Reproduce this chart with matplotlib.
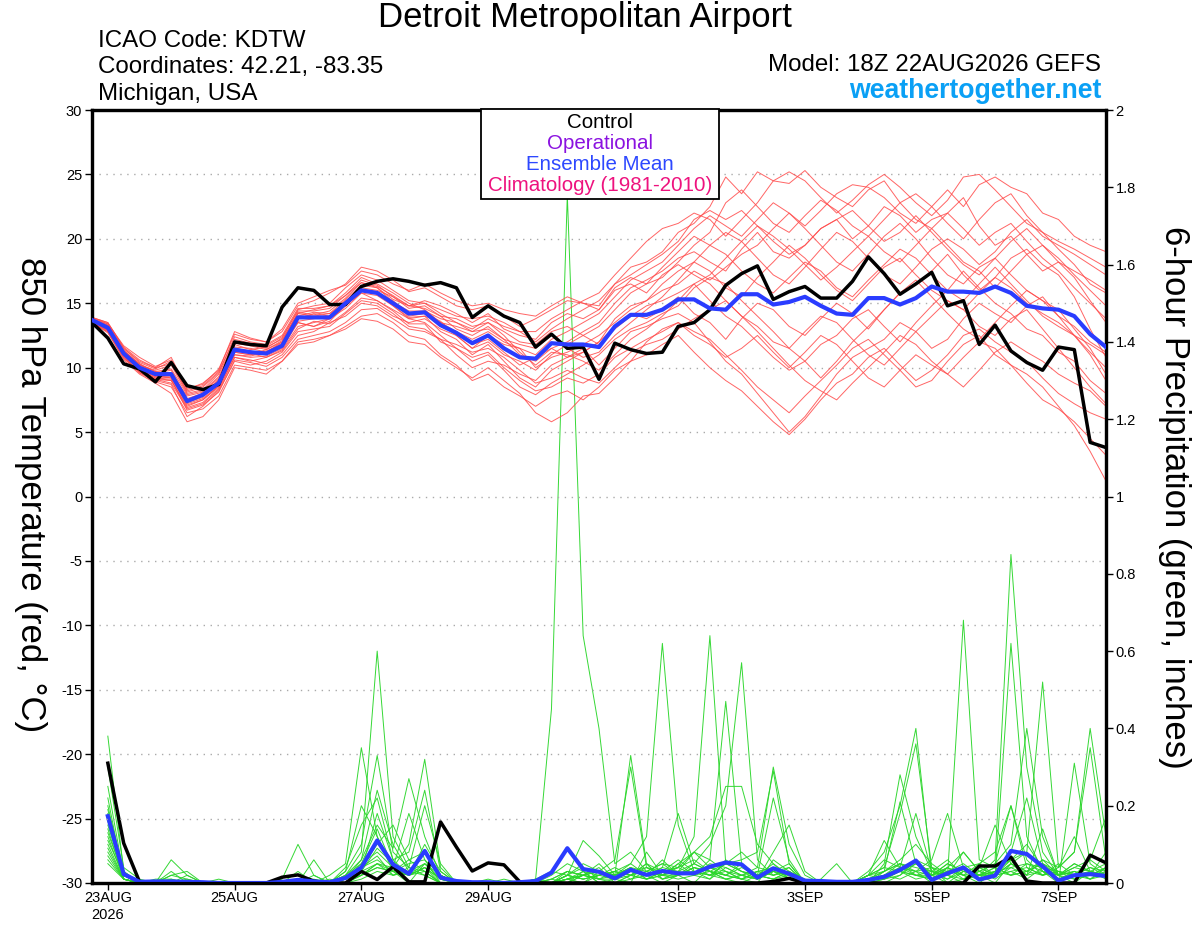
import numpy as np
import pandas as pd
import matplotlib
matplotlib.use("Agg")
import matplotlib.pyplot as plt
from matplotlib.patches import Rectangle

plt.rcParams['font.family'] = ['Liberation Sans', 'DejaVu Sans']

# ---------------- data ----------------
t_times = pd.date_range("2026-08-22 18:00", periods=65, freq="6h")
p_times = pd.date_range("2026-08-23 00:00", periods=64, freq="6h")

tick_dates = ["2026-08-23", "2026-08-25", "2026-08-27", "2026-08-29",
              "2026-09-01", "2026-09-03", "2026-09-05", "2026-09-07"]
tick_labels = ["23AUG\n2026", "25AUG", "27AUG", "29AUG", "1SEP", "3SEP", "5SEP", "7SEP"]

temp_ticks = [-30, -25, -20, -15, -10, -5, 0, 5, 10, 15, 20, 25, 30]
precip_ticks = [0, 0.2, 0.4, 0.6, 0.8, 1.0, 1.2, 1.4, 1.6, 1.8, 2.0]
precip_tick_labels = ["0", "0.2", "0.4", "0.6", "0.8", "1", "1.2", "1.4", "1.6", "1.8", "2"]

# control 850 hPa temperature
t_control = [13.5,
    12.3, 10.3, 9.9, 8.9,  10.4, 8.6, 8.3, 8.7,  12.0, 11.8, 11.7, 14.7,  16.2, 16.0, 14.9, 14.9,
    16.3, 16.7, 16.9, 16.7,  16.4, 16.6, 16.2, 13.9,  14.8, 14.0, 13.5, 11.6,  12.6, 11.5, 11.6, 9.1,
    11.9, 11.4, 11.1, 11.2,  13.2, 13.5, 14.5, 16.4,  17.3, 17.9, 15.3, 15.9,  16.3, 15.4, 15.4, 16.7,
    18.6, 17.3, 15.7, 16.5,  17.4, 14.8, 15.2, 11.8,  13.3, 11.3, 10.4, 9.8,  11.6, 11.4, 4.2, 3.8]

# ensemble mean temperature
t_mean = [13.7,
    13.1, 11.1, 10.0, 9.5,  9.5, 7.4, 7.9, 8.8,  11.4, 11.2, 11.1, 11.7,  13.9, 13.9, 13.9, 15.0,
    16.0, 15.8, 15.0, 14.2,  14.3, 13.3, 12.7, 11.9,  12.5, 11.5, 10.8, 10.7,  11.9, 11.8, 11.8, 11.6,
    13.2, 14.1, 14.1, 14.5,  15.3, 15.3, 14.6, 14.5,  15.7, 15.7, 14.9, 15.1,  15.5, 14.8, 14.2, 14.1,
    15.4, 15.4, 14.9, 15.4,  16.3, 15.9, 15.9, 15.8,  16.3, 15.8, 14.8, 14.6,  14.5, 14.0, 12.6, 11.6]

# ensemble members temperature
t_m01 = [13.8, 13.3, 11.4, 10.2, 9.8, 10.2, 8.0, 8.3, 9.5, 12.0, 11.8, 11.5, 12.3, 14.5, 14.8, 15.0, 16.2, 17.2, 16.8, 16.0, 15.2, 15.0, 14.2, 13.5, 12.8, 13.0, 12.2, 11.0, 10.5, 11.5, 12.0, 12.8, 13.5, 15.0, 16.2, 16.8, 17.5, 18.5, 19.0, 18.2, 17.5, 19.2, 20.5, 19.0, 18.5, 19.5, 20.8, 21.5, 20.0, 21.0, 22.5, 21.8, 20.5, 21.5, 22.0, 20.8, 19.5, 20.5, 21.2, 19.8, 18.5, 17.5, 16.2, 15.0, 13.8]
t_m02 = [13.5, 12.9, 10.8, 9.6, 8.9, 8.5, 6.5, 6.8, 7.8, 10.2, 10.0, 9.8, 10.5, 12.0, 12.2, 12.5, 13.2, 14.0, 14.2, 13.5, 12.5, 12.2, 11.0, 10.2, 9.0, 9.5, 8.5, 7.8, 7.0, 7.8, 8.2, 7.5, 8.5, 9.8, 10.5, 11.0, 11.8, 12.5, 11.2, 10.0, 9.0, 8.2, 7.0, 5.8, 4.8, 6.0, 7.5, 8.8, 9.5, 10.8, 11.5, 10.2, 9.0, 9.8, 11.0, 12.5, 13.0, 12.0, 11.2, 10.5, 9.2, 8.0, 7.2, 6.5, 6.0]
t_m03 = [13.9, 13.5, 11.6, 10.6, 10.0, 10.8, 8.3, 8.8, 9.8, 12.8, 12.3, 12.0, 12.8, 14.8, 15.2, 15.8, 16.5, 17.8, 17.5, 16.8, 15.9, 16.2, 15.5, 14.8, 14.5, 14.8, 14.0, 13.2, 13.8, 14.5, 15.2, 15.0, 14.8, 16.5, 17.8, 18.2, 19.0, 20.5, 21.2, 22.5, 24.8, 23.5, 25.2, 24.5, 24.3, 25.3, 24.0, 23.2, 22.5, 23.8, 24.5, 22.8, 21.5, 20.8, 22.0, 23.2, 21.0, 19.5, 20.2, 18.8, 17.5, 18.2, 17.0, 15.2, 13.5]
t_m04 = [13.6, 13.0, 11.0, 9.8, 9.2, 9.0, 7.0, 7.5, 8.5, 11.0, 10.8, 10.9, 11.5, 13.5, 13.2, 13.8, 14.6, 15.8, 15.2, 14.5, 13.8, 13.5, 12.5, 11.5, 10.5, 11.0, 9.8, 8.5, 7.9, 8.8, 9.5, 10.2, 11.0, 12.2, 13.0, 13.5, 14.2, 14.8, 16.2, 17.0, 16.5, 15.2, 14.0, 12.8, 11.5, 10.5, 9.2, 10.5, 12.0, 13.2, 14.5, 15.8, 16.5, 17.5, 18.8, 17.2, 16.0, 17.0, 18.5, 19.2, 18.0, 17.2, 15.5, 13.0, 10.8]
t_m05 = [13.7, 13.2, 11.2, 10.1, 9.6, 9.8, 7.6, 8.0, 9.0, 11.6, 11.5, 11.2, 12.0, 14.2, 14.0, 14.2, 15.3, 16.4, 16.2, 15.3, 14.8, 15.2, 14.8, 14.2, 13.5, 14.2, 13.0, 12.5, 12.2, 13.5, 14.2, 13.8, 14.5, 16.0, 16.5, 15.8, 17.2, 18.0, 17.2, 16.5, 15.2, 14.0, 13.2, 12.0, 11.5, 12.8, 14.0, 13.5, 12.2, 11.0, 10.2, 11.5, 12.8, 14.0, 15.2, 14.5, 13.2, 12.5, 13.8, 14.5, 13.0, 11.5, 10.0, 8.5, 7.2]
t_m06 = [13.8, 13.4, 11.5, 10.4, 9.9, 10.5, 8.1, 8.5, 9.6, 12.4, 12.0, 11.8, 12.5, 14.6, 14.6, 14.8, 15.8, 17.0, 16.5, 15.8, 15.0, 14.5, 13.5, 12.8, 12.2, 12.8, 12.0, 11.5, 11.0, 12.2, 12.8, 13.5, 14.2, 15.5, 16.8, 17.5, 18.2, 19.5, 20.8, 21.8, 21.0, 20.2, 21.5, 22.8, 22.0, 21.0, 22.2, 23.5, 24.2, 24.0, 23.2, 22.0, 21.2, 22.5, 23.8, 22.5, 24.2, 24.8, 24.0, 23.5, 22.0, 21.5, 20.2, 19.5, 19.0]
t_m07 = [13.4, 12.8, 10.6, 9.5, 8.8, 8.0, 5.8, 6.2, 7.5, 10.0, 9.8, 9.5, 10.5, 11.8, 12.0, 12.5, 13.0, 13.8, 13.6, 13.0, 12.0, 11.8, 10.8, 10.0, 9.2, 10.0, 9.0, 8.0, 6.5, 5.8, 6.5, 7.8, 8.0, 9.2, 10.5, 12.0, 13.0, 13.5, 12.8, 12.2, 11.0, 9.8, 8.5, 7.5, 6.5, 7.8, 9.0, 10.2, 11.5, 12.2, 11.0, 9.8, 8.5, 9.0, 10.5, 11.8, 12.5, 11.0, 10.2, 9.5, 8.5, 7.0, 5.5, 3.5, 1.2]
t_m08 = [13.6, 13.1, 11.2, 10.0, 9.4, 9.2, 7.2, 7.6, 8.6, 11.2, 11.0, 11.3, 11.8, 13.8, 14.2, 14.0, 15.2, 16.2, 16.0, 15.5, 14.6, 14.8, 14.0, 13.0, 12.5, 13.2, 12.2, 11.8, 11.5, 12.5, 11.5, 10.8, 11.2, 12.5, 13.5, 14.5, 15.5, 16.8, 18.2, 19.5, 20.5, 19.8, 18.5, 17.2, 16.5, 17.8, 19.2, 20.5, 19.8, 18.5, 17.2, 16.5, 17.8, 19.2, 20.0, 19.2, 18.0, 19.0, 20.5, 21.5, 20.2, 19.5, 18.8, 18.0, 17.2]
t_m09 = [13.5, 12.7, 10.7, 9.7, 9.0, 8.7, 6.2, 7.0, 8.2, 10.5, 10.2, 10.5, 11.2, 12.8, 13.0, 13.2, 14.2, 15.2, 15.0, 14.2, 13.2, 13.0, 12.2, 11.0, 10.0, 10.5, 10.2, 9.5, 9.0, 10.2, 10.8, 11.5, 10.2, 11.5, 12.8, 13.2, 13.8, 14.2, 13.5, 12.0, 10.5, 9.5, 8.0, 6.5, 5.0, 6.2, 7.8, 9.5, 10.8, 11.5, 12.2, 13.5, 12.8, 11.5, 12.2, 13.8, 15.0, 14.2, 13.5, 14.8, 15.5, 14.0, 12.5, 11.2, 10.0]
t_m10 = [13.9, 13.4, 11.7, 10.8, 10.1, 10.6, 8.4, 8.7, 9.9, 12.6, 12.2, 12.0, 13.0, 15.0, 15.5, 16.0, 16.4, 17.5, 17.2, 16.5, 16.0, 16.5, 15.8, 15.2, 14.8, 15.0, 14.5, 14.2, 14.0, 14.8, 15.5, 15.0, 14.5, 16.2, 17.0, 16.5, 17.8, 19.0, 20.2, 19.5, 18.8, 17.5, 16.5, 15.8, 17.0, 18.2, 17.5, 16.2, 15.5, 16.8, 18.0, 19.2, 18.5, 17.2, 16.0, 15.2, 16.5, 17.8, 16.5, 15.2, 14.0, 13.2, 12.5, 11.8, 11.0]
t_m11 = [13.7, 13.0, 11.0, 9.9, 9.3, 9.3, 7.3, 7.7, 8.9, 11.3, 11.1, 10.8, 11.4, 13.2, 13.5, 13.8, 14.8, 15.8, 15.6, 14.8, 13.8, 14.0, 12.8, 12.2, 11.0, 11.8, 10.5, 9.2, 8.5, 9.8, 10.5, 11.2, 12.0, 13.8, 14.8, 15.2, 16.0, 16.5, 17.5, 16.8, 17.8, 18.8, 19.5, 20.8, 22.0, 20.8, 19.5, 18.2, 17.5, 18.8, 20.2, 21.2, 20.0, 18.5, 17.2, 16.5, 17.8, 18.5, 17.2, 16.0, 15.2, 14.5, 13.0, 11.5, 9.5]
t_m12 = [13.6, 13.2, 11.3, 10.3, 9.7, 9.5, 7.8, 8.1, 9.2, 11.8, 11.4, 11.6, 12.2, 14.2, 14.5, 14.8, 15.6, 16.8, 16.4, 15.5, 14.8, 14.6, 14.0, 13.8, 13.2, 13.5, 12.8, 12.0, 11.8, 12.8, 13.2, 12.5, 11.8, 13.0, 14.0, 14.8, 15.2, 15.8, 16.5, 15.2, 14.0, 13.2, 12.0, 10.8, 9.8, 10.5, 11.8, 12.5, 13.8, 14.5, 13.2, 12.0, 13.5, 14.8, 16.0, 17.5, 16.2, 15.0, 14.2, 13.0, 12.5, 11.2, 10.5, 9.0, 8.0]
t_m13 = [13.5, 12.8, 10.9, 9.6, 9.1, 8.8, 6.8, 7.2, 8.3, 10.8, 10.6, 10.3, 11.0, 12.5, 12.8, 13.5, 14.0, 15.0, 14.8, 14.0, 13.5, 13.8, 13.0, 12.5, 11.5, 12.0, 11.0, 10.5, 9.8, 11.0, 11.8, 12.5, 13.2, 14.5, 15.8, 16.5, 17.0, 18.2, 19.5, 20.5, 22.8, 23.8, 22.5, 21.2, 20.5, 21.8, 23.0, 22.2, 21.0, 20.2, 21.5, 22.8, 23.5, 22.5, 21.2, 20.0, 21.5, 22.8, 23.5, 21.8, 20.5, 19.2, 18.0, 16.5, 15.8]
t_m14 = [13.8, 13.3, 11.3, 10.3, 9.5, 9.6, 7.5, 7.9, 9.1, 11.5, 11.3, 11.0, 11.8, 13.5, 13.2, 13.6, 14.8, 16.0, 15.8, 15.2, 14.2, 14.2, 13.2, 12.8, 11.8, 12.2, 11.2, 10.2, 10.8, 11.5, 10.8, 11.2, 12.0, 13.2, 14.2, 13.8, 14.5, 15.5, 14.2, 13.5, 12.2, 13.8, 15.0, 14.5, 13.2, 12.5, 13.8, 15.0, 14.2, 13.0, 14.5, 15.8, 16.8, 15.5, 14.2, 13.0, 12.2, 13.5, 14.8, 16.0, 15.2, 14.0, 13.2, 12.0, 11.2]
t_m15 = [13.7, 13.1, 11.1, 10.0, 9.4, 9.4, 7.4, 7.8, 8.7, 11.2, 11.0, 11.4, 12.0, 14.0, 14.3, 14.2, 15.0, 16.0, 15.8, 14.8, 13.9, 14.0, 13.5, 13.2, 12.8, 13.5, 12.5, 11.2, 10.2, 11.2, 11.0, 10.5, 9.8, 11.0, 12.2, 13.0, 14.0, 15.2, 16.5, 17.2, 18.5, 19.8, 21.0, 20.2, 19.2, 18.0, 16.8, 17.8, 19.0, 20.2, 19.0, 18.2, 19.5, 20.8, 19.5, 18.2, 17.5, 16.2, 17.5, 18.8, 19.5, 18.5, 17.2, 16.0, 14.8]
t_m16 = [13.6, 12.9, 10.8, 9.7, 9.1, 9.0, 6.9, 7.3, 8.4, 10.8, 10.5, 10.8, 11.3, 13.0, 13.6, 13.4, 14.3, 15.4, 15.2, 14.4, 13.4, 13.4, 12.0, 11.5, 10.8, 11.2, 10.0, 9.0, 8.2, 8.5, 9.2, 8.8, 9.5, 10.8, 11.5, 12.2, 12.8, 13.5, 12.5, 11.8, 10.8, 11.5, 12.5, 11.2, 10.0, 11.2, 12.5, 11.8, 10.5, 9.2, 8.5, 9.8, 11.0, 10.2, 9.5, 10.8, 12.0, 11.5, 10.2, 8.8, 7.5, 6.8, 5.8, 4.5, 3.2]
t_m17 = [13.9, 13.5, 11.5, 10.5, 10.0, 10.3, 8.2, 8.6, 9.7, 12.2, 11.9, 11.7, 12.4, 14.4, 14.4, 14.6, 15.6, 16.6, 16.3, 15.6, 14.8, 15.0, 14.5, 14.0, 13.8, 14.0, 13.5, 12.8, 12.8, 13.8, 14.5, 15.2, 15.8, 17.2, 18.5, 19.8, 20.8, 21.2, 22.0, 21.5, 20.2, 21.5, 22.8, 24.5, 25.2, 24.5, 23.2, 22.0, 23.0, 24.2, 25.0, 24.0, 22.8, 21.8, 23.0, 24.8, 25.0, 23.8, 22.5, 21.2, 20.5, 19.8, 19.2, 18.5, 17.8]
t_m18 = [13.5, 12.9, 10.9, 9.8, 9.2, 9.1, 6.7, 7.1, 8.1, 10.6, 10.4, 10.1, 10.8, 12.2, 12.5, 12.8, 13.5, 14.5, 14.6, 13.8, 13.0, 12.8, 12.2, 11.8, 11.2, 11.5, 10.8, 9.8, 8.8, 9.2, 9.8, 9.2, 8.8, 10.0, 11.2, 11.8, 12.2, 13.0, 13.8, 14.5, 15.2, 14.0, 12.8, 11.5, 10.2, 9.0, 8.2, 7.5, 8.8, 10.0, 11.2, 12.5, 11.8, 10.5, 9.5, 8.5, 9.8, 11.2, 12.0, 11.2, 10.5, 9.5, 8.8, 8.2, 7.0]
t_m19 = [13.7, 13.2, 11.2, 10.2, 9.7, 9.9, 7.9, 8.2, 9.3, 11.9, 11.7, 11.4, 12.1, 14.3, 14.1, 14.4, 15.4, 16.6, 16.2, 15.1, 14.4, 14.4, 13.8, 13.5, 13.0, 13.8, 13.2, 12.8, 12.0, 13.0, 13.8, 14.5, 15.2, 16.5, 17.2, 18.0, 18.8, 19.8, 21.5, 22.2, 21.5, 22.2, 21.0, 19.8, 18.8, 19.5, 20.8, 21.5, 22.2, 21.0, 19.8, 20.5, 21.8, 20.5, 19.2, 18.0, 17.2, 18.5, 19.8, 20.8, 19.5, 18.2, 17.5, 16.8, 16.0]
t_m20 = [13.6, 13.0, 11.0, 9.9, 9.3, 9.2, 7.1, 7.5, 8.6, 11.0, 10.9, 11.2, 11.9, 13.6, 13.8, 14.0, 15.0, 16.1, 15.9, 15.0, 14.0, 14.2, 13.6, 12.5, 11.5, 12.5, 11.8, 11.5, 10.0, 10.8, 11.2, 11.8, 12.5, 13.5, 14.5, 15.2, 16.5, 17.5, 18.2, 17.5, 16.2, 15.5, 17.0, 18.2, 19.5, 18.5, 17.2, 16.0, 15.2, 16.5, 17.8, 18.5, 17.2, 16.0, 15.2, 14.5, 15.8, 17.0, 16.2, 15.0, 14.2, 13.5, 12.5, 11.0, 9.0]

# control 6-hour precipitation
p_control = [0.31, 0.103, 0.003, 0, 0, 0, 0, 0, 0, 0, 0, 0.015, 0.021, 0.005, 0, 0,
    0.03, 0.009, 0.042, 0.003, 0.003, 0.158, 0.093, 0.031, 0.052, 0.047, 0.003, 0, 0, 0, 0, 0,
    0, 0, 0, 0, 0, 0, 0, 0, 0, 0, 0.004, 0.012, 0, 0, 0, 0,
    0, 0, 0, 0, 0, 0, 0, 0.044, 0.044, 0.067, 0.005, 0, 0, 0, 0.072, 0.052]

# ensemble mean 6-hour precipitation
p_mean = [0.173, 0.023, 0.003, 0.004, 0.004, 0.003, 0.002, 0, 0, 0, 0, 0.003, 0.008, 0.004, 0.002, 0.013,
    0.04, 0.11, 0.048, 0.024, 0.083, 0.014, 0.005, 0.002, 0.002, 0, 0.002, 0.005, 0.027, 0.09, 0.036, 0.029,
    0.012, 0.034, 0.021, 0.031, 0.025, 0.025, 0.042, 0.053, 0.048, 0.014, 0.038, 0.024, 0.006, 0.005, 0.003, 0.003,
    0.008, 0.016, 0.034, 0.058, 0.008, 0.025, 0.04, 0.009, 0.019, 0.083, 0.075, 0.043, 0.006, 0.02, 0.023, 0.018]

# ensemble members 6-hour precipitation
p_m01 = [.38, .03, 0, 0, 0, .01, 0, 0, 0, 0, 0, 0, 0, 0, 0, .02, .08, .60, .12, .04, .02, 0, 0, 0, 0, 0, 0, 0, 0, .02, .04, .01, 0, .02, .05, .01, .03, .08, .04, .02, .05, .02, .22, .06, 0, 0, 0, 0, 0, .02, .05, .03, 0, .04, .02, .01, .03, .06, .02, .14, .02, 0, .03, .05]
p_m02 = [.30, .04, .01, 0, .03, 0, 0, 0, 0, 0, 0, 0, .01, 0, .02, .05, .35, .12, .03, 0, .05, .02, 0, 0, 0, .01, 0, 0, .02, .05, .03, 0, .01, 0, .08, .02, .05, .02, .01, .06, .03, .01, .08, .15, .03, 0, 0, 0, 0, 0, .02, .06, .04, 0, .03, .02, 0, .05, .08, .03, 0, .31, .05, .02]
p_m03 = [.25, .02, 0, 0, .06, .02, 0, 0, 0, 0, 0, 0, 0, 0, 0, .03, .10, .33, .08, .04, .20, .05, 0, 0, 0, 0, 0, 0, 0, .01, 0, .02, .03, .05, .02, 0, .02, .04, .03, .01, 0, .02, .05, .01, 0, .01, .05, 0, 0, .03, .06, .10, .05, .02, 0, .04, .02, .05, .03, .06, .04, .08, .40, .12]
p_m04 = [.22, .01, 0, 0, .02, .03, 0, 0, 0, 0, 0, 0, 0, .01, 0, .01, .06, .24, .10, .03, .08, .02, 0, 0, .01, 0, 0, 0, 0, .03, .02, .04, 0, .01, .03, .05, .02, 0, .04, .03, .01, .03, .02, .04, 0, 0, 0, 0, .02, .11, .04, .02, .01, .03, .05, .02, .04, .02, .03, .05, .01, .02, .06, .17]
p_m05 = [.20, .02, 0, .01, .01, 0, 0, 0, 0, 0, 0, 0, .01, 0, 0, .04, .15, .22, .06, .02, .10, .03, 0, 0, 0, 0, 0, .01, .03, .02, .11, .07, .02, .04, .01, .02, .03, .02, .05, .04, .02, .01, .03, .02, 0, 0, 0, 0, 0, .05, .28, .12, .03, .06, .02, 0, .03, .04, .02, .06, .02, .05, .03, .02]
p_m06 = [.19, .02, 0, 0, 0, 0, 0, 0, 0, 0, 0, 0, .03, 0, 0, .03, .20, .12, .04, .02, .04, 0, 0, 0, 0, 0, 0, 0, 0, .02, .05, .03, .02, .33, .05, .01, .02, .04, .02, .03, .01, 0, .06, .03, 0, 0, 0, 0, .03, .08, .20, .40, .02, .05, .03, .02, .04, .06, .10, .04, .02, .03, .01, .04]
p_m07 = [.18, .01, 0, 0, 0, .02, 0, 0, 0, 0, 0, 0, 0, .02, 0, .01, .04, .10, .15, .06, .03, 0, 0, 0, 0, 0, 0, 0, 0, .01, .03, 0, 0, .02, .04, .03, .06, .03, .02, .05, .08, .04, .30, .10, .02, 0, 0, 0, 0, .01, .03, .05, .02, 0, .01, .03, .05, .20, .06, .02, .03, .01, .02, .04]
p_m08 = [.17, .03, 0, 0, 0, 0, 0, .01, 0, 0, 0, 0, 0, 0, 0, .02, .06, .15, .09, .27, .12, .02, 0, 0, 0, 0, 0, 0, .01, .03, .02, .05, .01, .03, .02, .06, .02, .05, .03, .01, .02, .03, .04, .02, 0, 0, 0, 0, .02, .04, .18, .36, .04, .02, .08, .03, .01, .04, .05, .03, .02, .04, .06, .03]
p_m09 = [.16, .02, 0, 0, 0, 0, 0, 0, 0, 0, 0, 0, .01, 0, 0, .02, .05, .14, .04, .10, .32, .04, 0, 0, 0, 0, 0, 0, 0, .01, 0, .03, .02, .04, .01, .03, .04, .02, .06, .03, .02, .01, .03, .05, 0, 0, 0, 0, .01, .03, .21, .05, .02, .04, .01, .02, .03, .02, .05, .04, .01, .03, .02, .08]
p_m10 = [.15, .02, 0, 0, 0, 0, 0, 0, 0, 0, 0, 0, 0, 0, .01, 0, .03, .18, .06, .08, .24, .03, 0, 0, 0, 0, 0, .01, 0, .02, .01, .02, .04, .02, .03, .01, .02, .03, .02, .05, .03, .02, .01, .03, .01, 0, 0, 0, .02, .06, .04, .18, .03, .01, .04, .02, .02, .03, .04, .02, .05, .02, .03, .02]
p_m11 = [.14, .01, 0, 0, 0, 0, 0, 0, 0, 0, 0, 0, 0, 0, 0, .01, .05, .08, .04, .18, .06, 0, 0, 0, 0, 0, 0, 0, 0, 0, .02, .01, .01, .02, .01, .02, .01, .02, .03, .02, .01, .02, .01, .02, 0, 0, 0, 0, 0, .02, .04, .03, .06, .18, .04, .02, .02, .03, .01, .04, .03, .02, .02, .04]
p_m12 = [.13, .02, 0, 0, 0, 0, 0, 0, 0, 0, 0, 0, 0, 0, 0, .01, .04, .06, .03, .02, .05, .01, 0, 0, 0, 0, 0, .01, .45, 1.78, .64, .40, .05, .08, .03, .02, .04, .06, .03, .02, .01, .03, .02, .03, 0, 0, 0, 0, 0, .02, .03, .02, .02, .04, .08, .03, .02, .05, .03, .02, .04, .08, .35, .06]
p_m13 = [.12, .01, 0, 0, 0, 0, 0, 0, 0, 0, 0, .01, .10, .02, 0, .01, .03, .09, .05, .02, .04, .01, 0, 0, 0, 0, 0, 0, 0, .01, .02, .03, .06, .30, .04, .02, .02, .03, .01, .04, .02, .01, .03, .02, 0, 0, 0, 0, .01, .03, .05, .04, .03, .02, .68, .06, .04, .02, .03, .05, .02, .04, .03, .02]
p_m14 = [.11, .02, 0, 0, .02, .01, 0, 0, 0, 0, 0, 0, 0, .06, 0, 0, .02, .05, .03, .05, .06, .02, 0, 0, 0, 0, 0, 0, .01, .03, .02, .01, .02, .05, .12, .62, .15, .03, .02, .01, .02, .04, .03, .01, 0, 0, 0, 0, 0, .01, .02, .05, .03, .02, .01, .04, .15, .05, .02, .03, .01, .02, .04, .03]
p_m15 = [.10, .01, 0, 0, .01, 0, 0, 0, 0, 0, 0, 0, 0, 0, 0, .01, .04, .07, .02, .03, .05, .01, 0, 0, 0, 0, 0, 0, 0, 0, .03, .02, .01, .03, .02, .04, .18, .05, .03, .02, .04, .02, .01, .03, 0, 0, 0, 0, .01, .02, .03, .01, .02, .03, .04, .02, .06, .85, .30, .08, .02, .03, .01, .02]
p_m16 = [.09, .01, 0, 0, 0, 0, 0, 0, 0, 0, 0, 0, 0, 0, 0, 0, .02, .04, .03, .06, .08, .02, 0, 0, 0, 0, 0, 0, 0, .01, .02, .01, .03, .02, .05, .03, .04, .12, .64, .05, .03, .02, .04, .01, 0, 0, 0, 0, .02, .01, .03, .06, .02, .05, .03, .04, .02, .62, .12, .03, .02, .05, .03, .01]
p_m17 = [.08, .01, 0, 0, 0, 0, 0, 0, 0, 0, 0, 0, 0, 0, 0, .01, .03, .05, .02, .04, .03, 0, 0, 0, 0, 0, 0, 0, .01, 0, .02, .03, .02, .04, .03, .05, .04, .08, .06, .47, .05, .02, .03, .04, 0, 0, 0, 0, .01, .02, .04, .03, .04, .03, .02, .05, .08, .20, .04, .02, .03, .02, .04, .02]
p_m18 = [.07, .01, 0, 0, 0, 0, 0, 0, 0, 0, 0, 0, 0, 0, 0, 0, .02, .05, .04, .02, .04, .01, 0, 0, 0, 0, 0, 0, 0, .02, .01, .02, .03, .01, .02, .04, .03, .05, .10, .20, .57, .06, .02, .03, 0, 0, 0, 0, .02, .03, .05, .02, .01, .04, .02, .03, .05, .10, .40, .12, .02, .01, .03, .02]
p_m19 = [.06, .01, 0, 0, 0, 0, 0, 0, 0, 0, 0, 0, 0, 0, 0, 0, .01, .03, .02, .03, .02, 0, 0, 0, 0, 0, 0, 0, 0, .01, .02, .03, .02, .03, .04, .02, .05, .08, .12, .25, .25, .10, .05, .02, 0, 0, 0, 0, .01, .02, .01, .03, .02, .01, .03, .02, .03, .08, .22, .05, .03, .02, .01, .03]
p_m20 = [.05, .01, 0, 0, 0, 0, 0, 0, 0, 0, 0, 0, 0, 0, 0, .01, .02, .04, .03, .02, .03, 0, 0, 0, 0, 0, 0, 0, 0, .02, .01, .02, .03, .02, .01, .03, .02, .04, .03, .05, .06, .08, .29, .05, 0, 0, 0, 0, .02, .04, .03, .02, .03, .02, .04, .05, .02, .06, .08, .52, .04, .12, .03, .02]

t_members = [t_m01, t_m02, t_m03, t_m04, t_m05, t_m06, t_m07, t_m08, t_m09, t_m10,
             t_m11, t_m12, t_m13, t_m14, t_m15, t_m16, t_m17, t_m18, t_m19, t_m20]
p_members = [p_m01, p_m02, p_m03, p_m04, p_m05, p_m06, p_m07, p_m08, p_m09, p_m10,
             p_m11, p_m12, p_m13, p_m14, p_m15, p_m16, p_m17, p_m18, p_m19, p_m20]

# ---------------- figure ----------------
W, H = 1200, 927
fig = plt.figure(figsize=(W / 100, H / 100), dpi=100)
L, R, T, B = 92, 1106, 110, 883
ax = fig.add_axes([L / W, 1 - B / H, (R - L) / W, (B - T) / H])
ax2 = ax.twinx()

RED = "#ff4a4a"
GREEN = "#2ad62a"
BLUE = "#2a3cff"

# precipitation (right axis)
for pm in p_members:
    ax2.plot(p_times, pm, color=GREEN, lw=0.7, alpha=0.95, zorder=2)
ax2.plot(p_times, p_control, color="black", lw=2.5, zorder=4)
ax2.plot(p_times, p_mean, color=BLUE, lw=3.0, zorder=5)

# temperature (left axis)
for tm in t_members:
    ax.plot(t_times, tm, color=RED, lw=0.7, alpha=0.85, zorder=2)
ax.plot(t_times, t_control, color="black", lw=2.5, zorder=4)
ax.plot(t_times, t_mean, color=BLUE, lw=3.0, zorder=5)

ax.set_zorder(ax2.get_zorder() + 1)
ax.patch.set_visible(False)

ax.set_xlim(t_times[0], t_times[-1])
ax.set_ylim(-30, 30)
ax2.set_ylim(0, 2)

ax.set_yticks(temp_ticks)
ax.set_yticklabels([str(v) for v in temp_ticks])
ax2.set_yticks(precip_ticks)
ax2.set_yticklabels(precip_tick_labels)
ax.set_xticks(pd.to_datetime(tick_dates))
ax.set_xticklabels(tick_labels)

for v in temp_ticks[1:-1]:
    ax.axhline(v, color="#aaaaaa", lw=1.0, ls=(0, (1, 4)), zorder=1)

for a in (ax, ax2):
    for s in a.spines.values():
        s.set_linewidth(2.3)
    a.tick_params(direction="out", length=5, width=1.0, labelsize=10.5, pad=2)
ax.tick_params(axis="x", labelsize=10.5, pad=1, length=5)

# ---------------- texts ----------------
def fx(x):
    return x / W

def fy(y):
    return 1 - y / H

fig.text(fx(30), fy(495), "850 hPa Temperature (red, °C)", fontsize=25, rotation=270,
         ha="center", va="center")
fig.text(fx(1174), fy(497), "6-hour Precipitation (green, inches)", fontsize=25, rotation=270,
         ha="center", va="center")

fig.text(fx(585), fy(18), "Detroit Metropolitan Airport", fontsize=25,
         ha="center", va="center")
fig.text(fx(98), fy(41), "ICAO Code: KDTW", fontsize=17.4, ha="left", va="center")
fig.text(fx(98), fy(67), "Coordinates: 42.21, -83.35", fontsize=17.4, ha="left", va="center")
fig.text(fx(98), fy(94), "Michigan, USA", fontsize=17.4, ha="left", va="center")
fig.text(fx(1101), fy(65), "Model: 18Z 22AUG2026 GEFS", fontsize=17.4, ha="right", va="center")
fig.text(fx(1101), fy(91), "weathertogether.net", fontsize=19.2, ha="right", va="center",
         color="#0aa0f5", fontweight="bold")

# legend box
fig.add_artist(Rectangle((fx(481), fy(199)), fx(719) - fx(481), fy(109) - fy(199),
                         transform=fig.transFigure, facecolor="white", edgecolor="black",
                         lw=1.3, zorder=10))
leg_items = [("Control", "black"), ("Operational", "#8a12e0"),
             ("Ensemble Mean", "#2d48ff"), ("Climatology (1981-2010)", "#ee127e")]
for k, (txt, col) in enumerate(leg_items):
    fig.text(fx(600), fy(122 + 21.3 * k), txt, fontsize=14.8, color=col,
             ha="center", va="center", zorder=11)

fig.savefig("out.png", dpi=100)
